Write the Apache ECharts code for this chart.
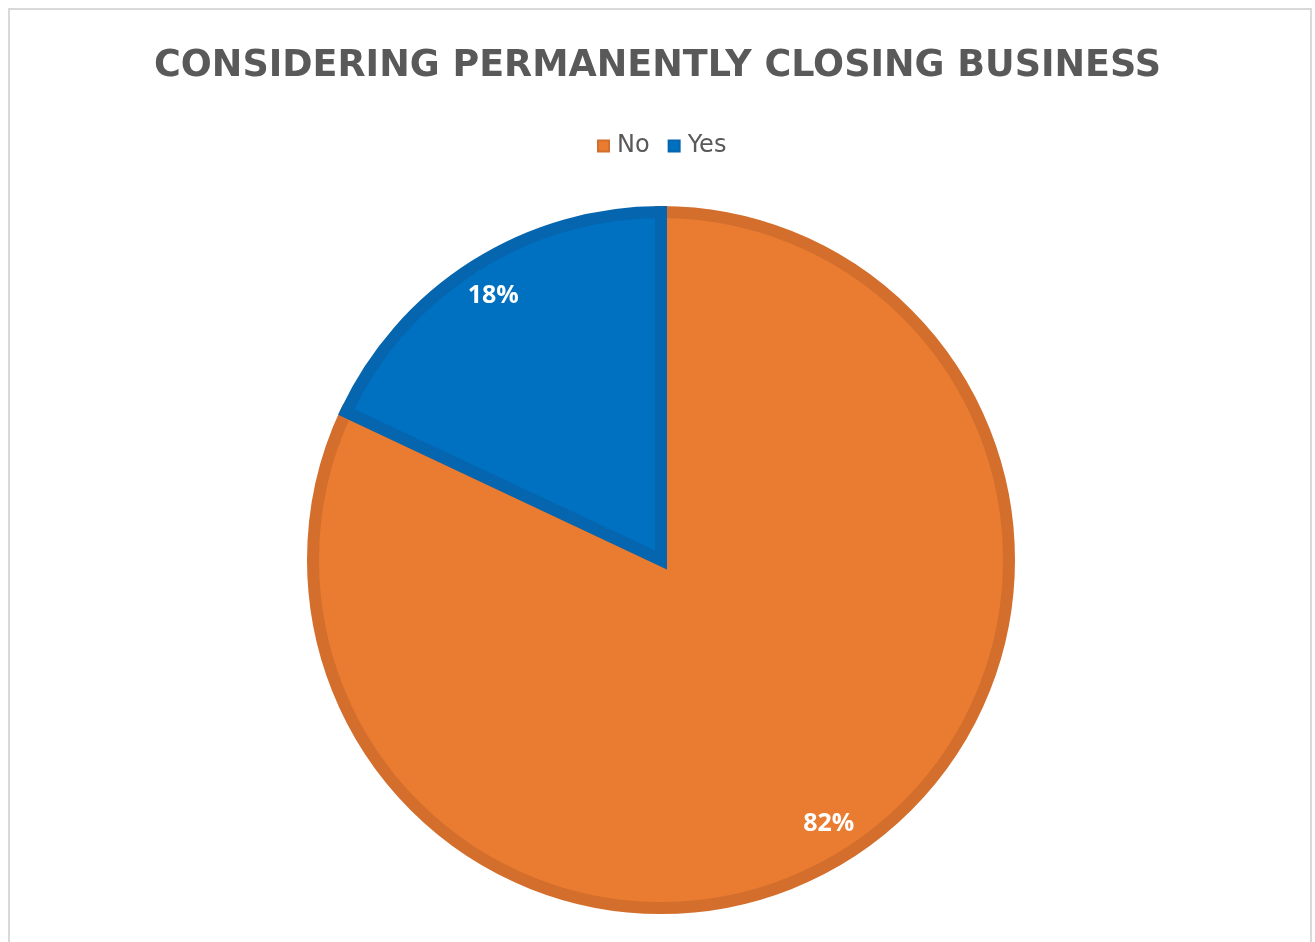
<!DOCTYPE html>
<html>
<head>
<meta charset="utf-8">
<script src="https://cdn.jsdelivr.net/npm/echarts@6/dist/echarts.min.js"></script>
<style>
html,body{margin:0;padding:0;background:#fff;}
#chart{width:1315px;height:942px;}
</style>
</head>
<body>
<div id="chart"></div>
<script>
const titleText = 'CONSIDERING PERMANENTLY CLOSING BUSINESS';
const categories = ['No', 'Yes'];
const values = [82, 18];
const fillColors = ['#E97C30', '#0070C0'];
const borderColors = ['#D46E2C', '#0565AE'];

const chart = echarts.init(document.getElementById('chart'), null, {renderer: 'canvas'});
const pieData = categories.map((c, i) => ({
  name: c,
  value: values[i],
  itemStyle: {color: fillColors[i], borderColor: borderColors[i]}
}));
const labelData = categories.map((c, i) => ({name: c, value: values[i]}));

chart.setOption({
  backgroundColor: '#ffffff',
  animation: false,
  color: fillColors,
  graphic: [{
    type: 'rect',
    shape: {x: 9, y: 9, width: 1302, height: 960},
    style: {fill: 'none', stroke: '#D9D9D9', lineWidth: 2},
    silent: true, z: -10
  }],
  title: {
    text: titleText,
    left: 'center',
    top: 43,
    textStyle: {fontFamily: 'DejaVu Sans', fontWeight: 'bold', fontSize: 36.5, color: '#595959'}
  },
  legend: {
    data: categories,
    left: 592,
    top: 129,
    icon: 'rect',
    itemWidth: 11,
    itemHeight: 11,
    itemGap: 18,
    textStyle: {fontFamily: 'DejaVu Sans', fontSize: 24, color: '#595959', padding: [0, 0, 0, 3]}
  },
  series: [{
    type: 'pie',
    center: [661, 560],
    radius: [0, 348],
    startAngle: 90,
    clockwise: true,
    data: pieData,
    label: {show: false},
    labelLine: {show: false},
    itemStyle: {borderWidth: 12, borderJoin: 'miter'},
    emphasis: {disabled: true},
    silent: true
  }, {
    type: 'pie',
    center: [661, 560],
    radius: [266, 354],
    startAngle: 90,
    clockwise: true,
    data: labelData,
    itemStyle: {color: 'rgba(0,0,0,0)', borderWidth: 0},
    label: {
      show: true,
      position: 'inside',
      formatter: '{d}%',
      color: '#ffffff',
      fontFamily: 'Open Sans',
      fontWeight: 'bold',
      fontSize: 25
    },
    labelLine: {show: false},
    emphasis: {disabled: true},
    silent: true,
    z: 5
  }]
});
</script>
</body>
</html>
